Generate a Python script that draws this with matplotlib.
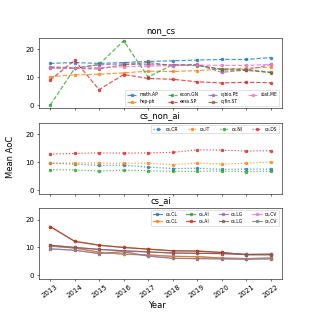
import numpy as np
import matplotlib
matplotlib.use("Agg")
import matplotlib.pyplot as plt

years = np.arange(2013, 2023)

# non_cs
non_cs_names = ["math.AP", "hep-ph", "econ.GN", "eess.SP", "q-bio.PE", "q-fin.ST", "stat.ME"]
math_ap = [15.0, 15.3, 15.0, 15.3, 15.7, 15.9, 16.2, 16.4, 16.4, 17.1]
hep_ph = [10.2, 10.9, 11.1, 11.6, 12.2, 12.1, 12.4, 13.0, 13.2, 13.7]
econ_gn = [0.0, 13.2, 14.6, 23.1, 10.1, 14.5, 14.2, 13.0, 12.8, 11.8]
eess_sp = [9.0, 16.1, 5.6, 11.0, 9.6, 9.3, 8.4, 8.0, 8.2, 8.1]
q_bio_pe = [13.8, 13.4, 14.5, 14.8, 14.5, 14.5, 14.6, 11.8, 12.6, 14.6]
q_fin_st = [13.5, 13.2, 13.0, 14.5, 15.3, 14.2, 14.5, 12.7, 12.5, 11.7]
stat_me = [13.2, 13.3, 13.5, 13.8, 14.0, 14.2, 14.4, 14.3, 14.3, 14.6]
non_cs_vals = [math_ap, hep_ph, econ_gn, eess_sp, q_bio_pe, q_fin_st, stat_me]

# cs_non_ai
cs_non_ai_names = ["cs.CR", "cs.IT", "cs.NI", "cs.DS"]
cs_cr = [9.7, 9.4, 8.9, 9.0, 8.3, 7.8, 7.9, 7.5, 7.6, 7.6]
cs_it = [9.8, 9.8, 9.8, 9.7, 9.7, 9.2, 9.8, 9.4, 9.7, 10.1]
cs_ni = [7.4, 7.3, 6.9, 7.2, 7.0, 6.8, 6.8, 6.9, 6.7, 6.8]
cs_ds = [13.0, 13.2, 13.4, 13.3, 13.4, 13.6, 14.5, 14.4, 14.1, 14.2]
cs_non_ai_vals = [cs_cr, cs_it, cs_ni, cs_ds]

# cs_ai (each category appears twice)
cs_ai_names = ["cs.CL", "cs.CL", "cs.AI", "cs.AI", "cs.LG", "cs.LG", "cs.CV", "cs.CV"]
cs_cl = [10.5, 9.8, 8.3, 7.6, 7.3, 6.8, 6.7, 6.2, 6.0, 6.2]
cs_ai = [17.5, 12.2, 10.8, 10.0, 9.4, 8.8, 8.7, 8.2, 7.4, 7.4]
cs_lg = [10.8, 10.0, 9.3, 8.8, 8.4, 8.0, 7.9, 7.8, 7.5, 7.6]
cs_cv = [9.5, 9.0, 7.8, 8.5, 6.9, 6.1, 6.0, 5.9, 5.8, 5.9]
cs_ai_vals = [cs_cl, cs_cl, cs_ai, cs_ai, cs_lg, cs_lg, cs_cv, cs_cv]

fig, axes = plt.subplots(3, 1, figsize=(6.26, 6.26), dpi=50, sharex=True, sharey=True)

groups = [
    ("non_cs", non_cs_names, non_cs_vals, "--", "lower right"),
    ("cs_non_ai", cs_non_ai_names, cs_non_ai_vals, ":", "upper right"),
    ("cs_ai", cs_ai_names, cs_ai_vals, "-", "upper right"),
]

for ax, (title, names, vals, ls, loc) in zip(axes, groups):
    for name, v in zip(names, vals):
        ax.plot(years, v, linestyle=ls, marker="o", markersize=4, linewidth=1.7,
                alpha=0.8, label=name)
    ax.set_title(title)
    ax.legend(loc=loc, ncol=4, fontsize=6.5)

axes[2].set_xticks(years)
plt.setp(axes[2].get_xticklabels(), rotation=35)
fig.supxlabel("Year")
fig.supylabel("Mean AoC")

fig.savefig("out.png", dpi=50)
